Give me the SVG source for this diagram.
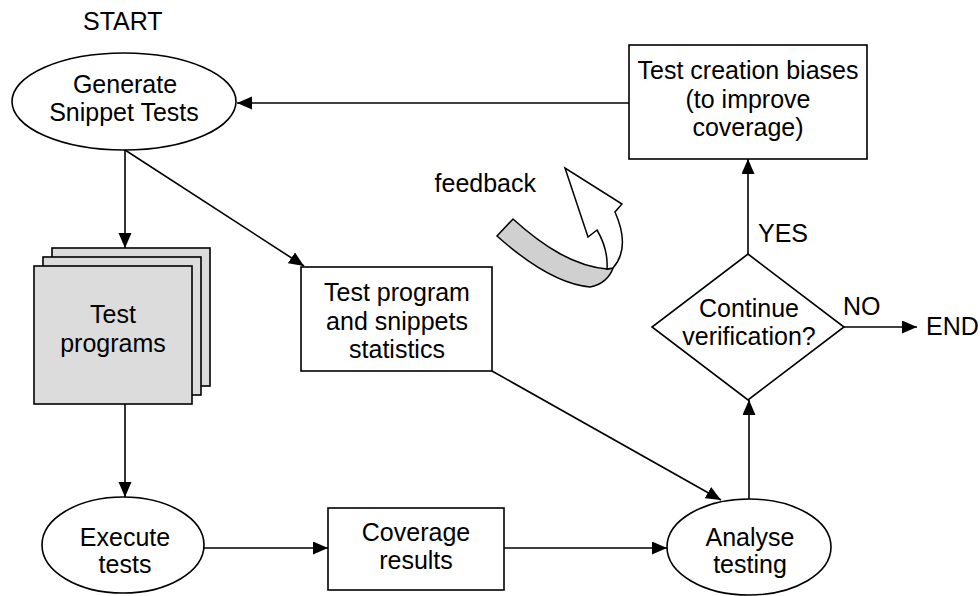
<svg xmlns="http://www.w3.org/2000/svg" width="980" height="596" viewBox="0 0 980 596">
<style>
  .shape { fill: #ffffff; stroke: #000000; stroke-width: 1.6; }
  .stack { fill: #dcdcdc; stroke: #000000; stroke-width: 1.6; }
  .conn { fill: none; stroke: #000000; stroke-width: 1.6; }
  text { font-family: "Liberation Sans", Arial, sans-serif; font-size: 25px; fill: #000000; }
  .c { text-anchor: middle; }
</style>
<defs>
  <marker id="arrow" markerUnits="userSpaceOnUse" markerWidth="16" markerHeight="14" refX="15" refY="6.5" orient="auto">
    <path d="M0,0 L15,6.5 L0,13 Z" fill="#000000"/>
  </marker>
</defs>
<rect width="980" height="596" fill="#ffffff"/>

<text x="83" y="30">START</text>

<g id="generate">
  <ellipse class="shape" cx="124" cy="101.5" rx="112" ry="48.5"/>
  <text class="c" x="125" y="93">Generate</text>
  <text class="c" x="124" y="121">Snippet Tests</text>
</g>

<g id="test-creation-biases">
  <rect class="shape" x="629" y="45" width="238" height="114"/>
  <text class="c" x="748" y="79">Test creation biases</text>
  <text class="c" x="748" y="108">(to improve</text>
  <text class="c" x="748" y="136">coverage)</text>
</g>

<g id="test-programs">
  <rect class="stack" x="52" y="248" width="158" height="138"/>
  <rect class="stack" x="43" y="257" width="158" height="138"/>
  <rect class="stack" x="34" y="266" width="158" height="138"/>
  <text class="c" x="113" y="323">Test</text>
  <text class="c" x="113" y="352">programs</text>
</g>

<g id="statistics">
  <rect class="shape" x="301" y="267" width="191" height="104"/>
  <text class="c" x="397" y="301">Test program</text>
  <text class="c" x="397" y="330">and snippets</text>
  <text class="c" x="397" y="358">statistics</text>
</g>

<g id="feedback">
  <path d="M513,219 C545,248 575,266 607,269 L613,268 C610,277 602,285 590,287 C558,284 525,261 497,236 Z" fill="#d0d0d0" stroke="#000000" stroke-width="1.5"/>
  <path d="M607,269 C608,255 604,242 597,230 L588,237 L565,168 L622,204 L615,212 C623,230 627,252 613,268 Z" fill="#ffffff" stroke="#000000" stroke-width="1.5"/>
  <text x="536" y="192" text-anchor="end">feedback</text>
</g>

<g id="decision">
  <polygon class="shape" points="748,254 844,327 748,400 652,327"/>
  <text class="c" x="749" y="317">Continue</text>
  <text class="c" x="749" y="345">verification?</text>
</g>

<g id="execute">
  <ellipse class="shape" cx="123" cy="545" rx="81" ry="48"/>
  <text class="c" x="125" y="546">Execute</text>
  <text class="c" x="125" y="573">tests</text>
</g>

<g id="coverage">
  <rect class="shape" x="328" y="508" width="176" height="82"/>
  <text class="c" x="416" y="541">Coverage</text>
  <text class="c" x="416" y="569">results</text>
</g>

<g id="analyse">
  <ellipse class="shape" cx="749" cy="547" rx="82" ry="48"/>
  <text class="c" x="750" y="546">Analyse</text>
  <text class="c" x="750" y="573">testing</text>
</g>

<g id="labels">
  <text x="758" y="242">YES</text>
  <text x="843" y="315">NO</text>
  <text x="926" y="335">END</text>
</g>

<g id="connectors">
  <line class="conn" x1="629" y1="103" x2="237" y2="103" marker-end="url(#arrow)"/>
  <line class="conn" x1="125" y1="150" x2="125" y2="248" marker-end="url(#arrow)"/>
  <line class="conn" x1="125" y1="150" x2="304" y2="266" marker-end="url(#arrow)"/>
  <line class="conn" x1="125" y1="404" x2="125" y2="497" marker-end="url(#arrow)"/>
  <line class="conn" x1="204" y1="548" x2="328" y2="548" marker-end="url(#arrow)"/>
  <line class="conn" x1="504" y1="548" x2="667" y2="548" marker-end="url(#arrow)"/>
  <line class="conn" x1="492" y1="371" x2="721" y2="500" marker-end="url(#arrow)"/>
  <line class="conn" x1="749" y1="499" x2="749" y2="400" marker-end="url(#arrow)"/>
  <line class="conn" x1="748" y1="254" x2="748" y2="159" marker-end="url(#arrow)"/>
  <line class="conn" x1="844" y1="327" x2="917" y2="327" marker-end="url(#arrow)"/>
</g>
</svg>
